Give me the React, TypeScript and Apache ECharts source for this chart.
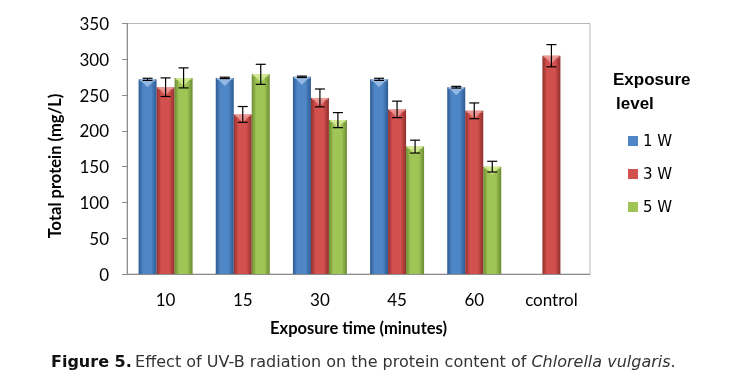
import React, { useEffect, useRef } from "react";
import * as echarts from "echarts";

const categories = ["10", "15", "30", "45", "60", "control"];
const levels = ["1 W", "3 W", "5 W"];
const w1 = [272, 274, 275.5, 272, 261, null];
const w3 = [261, 223, 246, 230, 228, 305];
const w5 = [274, 279, 215, 178, 150, null];
const err1 = [1.5, 1, 1, 1.5, 1.2, null];
const err3 = [13, 11, 12.5, 11.5, 11, 15.5];
const err5 = [14, 14, 10.5, 9, 7.5, null];
const yTicks = [0, 50, 100, 150, 200, 250, 300, 350];

const BAR_W = 18;

const palette = [
  { edge: "#2c5a92", mid: "#4f86c6", light: "#a9c8ec" },
  { edge: "#8f2e2c", mid: "#d2504d", light: "#f0a3a1" },
  { edge: "#6a8a30", mid: "#9fc556", light: "#dcef9e" },
];

function grad(c: { edge: string; mid: string }) {
  return new echarts.graphic.LinearGradient(1, 0, 0, 0, [
    { offset: 0, color: c.edge },
    { offset: 0.3, color: c.mid },
    { offset: 0.75, color: c.mid },
    { offset: 1, color: c.edge },
  ]);
}

export default function App() {
  const ref = useRef<HTMLDivElement>(null);
  useEffect(() => {
    if (!ref.current) return;
    const chart = echarts.init(ref.current, null, { renderer: "svg" });
    const values = [w1, w3, w5];
    const errs = [err1, err3, err5];

    const barSeries = values.map((vals, k) => ({
      type: "bar",
      name: levels[k],
      data: vals.map((v) => (v == null ? "-" : v)),
      barWidth: BAR_W,
      barGap: "0%",
      itemStyle: { color: grad(palette[k]) },
      z: 2,
    }));

    const errSeries = values.map((vals, k) => ({
      type: "custom",
      name: "err" + k,
      z: 5,
      silent: true,
      data: vals
        .map((v, i) => (v == null ? null : [i, v, (v as number) - (errs[k][i] as number), (v as number) + (errs[k][i] as number)]))
        .filter((d) => d != null),
      encode: { x: 0, y: [1, 2, 3] },
      renderItem: (params: any, api: any) => {
        const idx = api.value(0);
        const v = api.value(1);
        const lo = api.coord([idx, api.value(2)]);
        const hi = api.coord([idx, api.value(3)]);
        const top = api.coord([idx, v]);
        const off = (k - 1) * BAR_W;
        const x = lo[0] + off;
        const cap = 5;
        const x0 = x - BAR_W / 2;
        const x1 = x + BAR_W / 2;
        const black = { stroke: "#000", lineWidth: 1.2 };
        return {
          type: "group",
          children: [
            {
              type: "polygon",
              shape: { points: [[x0 + 1, top[1]], [x1 - 1, top[1]], [x, top[1] + 8]] },
              style: { fill: palette[k].light, opacity: 0.75 },
            },
            {
              type: "rect",
              shape: { x: x0 + 1, y: top[1], width: BAR_W - 2, height: 2 },
              style: { fill: palette[k].light, opacity: 0.6 },
            },
            { type: "line", shape: { x1: x, y1: lo[1], x2: x, y2: hi[1] }, style: black },
            { type: "line", shape: { x1: x - cap, y1: lo[1], x2: x + cap, y2: lo[1] }, style: black },
            { type: "line", shape: { x1: x - cap, y1: hi[1], x2: x + cap, y2: hi[1] }, style: black },
          ],
        };
      },
    }));

    chart.setOption({
      animation: false,
      grid: {
        left: 127,
        right: 161,
        top: 23.5,
        bottom: 112,
        show: true,
        borderColor: "#b8b8b8",
        borderWidth: 1,
        backgroundColor: "transparent",
      },
      legend: {
        data: levels.map((n, k) => ({ name: n, itemStyle: { color: palette[k].mid } })),
        orient: "vertical",
        left: 628,
        top: 133,
        padding: 0,
        itemWidth: 10,
        itemHeight: 10,
        itemGap: 17,
        icon: "rect",
        textStyle: { fontFamily: "DejaVu Sans", fontSize: 15, color: "#000", lineHeight: 16 },
        selectedMode: false,
      },
      xAxis: {
        type: "category",
        data: categories,
        axisTick: { show: false },
        axisLine: { lineStyle: { color: "#8c8c8c", width: 1 } },
        axisLabel: { fontFamily: "Lato, sans-serif", fontSize: 17, color: "#000", margin: 17 },
        name: "Exposure time (minutes)",
        nameLocation: "middle",
        nameGap: 45,
        nameTextStyle: { fontFamily: "Lato, sans-serif", fontWeight: "bold", fontSize: 16.5, color: "#000" },
      },
      yAxis: {
        type: "value",
        min: yTicks[0],
        max: yTicks[yTicks.length - 1],
        interval: 50,
        splitLine: { show: false },
        axisLine: { show: true, lineStyle: { color: "#8c8c8c", width: 1 } },
        axisTick: { show: true, length: 5, lineStyle: { color: "#8c8c8c" } },
        axisLabel: { fontFamily: "Lato, sans-serif", fontSize: 17, color: "#000", margin: 18 },
      },
      graphic: [
        {
          type: "text",
          x: 55,
          y: 166,
          rotation: Math.PI / 2,
          style: {
            text: "Total protein (mg/L)",
            fontFamily: "Lato, sans-serif",
            fontWeight: "bold",
            fontSize: 16.5,
            fill: "#000",
            align: "center",
            verticalAlign: "middle",
          },
        },
        {
          type: "text",
          x: 613,
          y: 79,
          style: {
            text: "Exposure",
            fontFamily: "Liberation Sans",
            fontWeight: "bold",
            fontSize: 17,
            fill: "#000",
            verticalAlign: "middle",
          },
        },
        {
          type: "text",
          x: 616,
          y: 103,
          style: {
            text: "level",
            fontFamily: "Liberation Sans",
            fontWeight: "bold",
            fontSize: 17,
            fill: "#000",
            verticalAlign: "middle",
          },
        },
        {
          type: "text",
          x: 51,
          y: 361,
          style: {
            text: "{b|Figure 5.} {n|Effect of UV-B radiation on the protein content of }{i|Chlorella vulgaris}{n|.}",
            verticalAlign: "middle",
            rich: {
              b: { fontFamily: "DejaVu Sans", fontWeight: "bold", fontSize: 16, fill: "#111" },
              n: { fontFamily: "DejaVu Sans", fontSize: 16, fill: "#333" },
              i: { fontFamily: "DejaVu Sans", fontStyle: "italic", fontSize: 16, fill: "#333" },
            },
          },
        },
      ],
      series: [...barSeries, ...errSeries],
    });
    return () => chart.dispose();
  }, []);
  return <div ref={ref} style={{ position: "fixed", left: 0, top: 0, width: 751, height: 386 }} />;
}
